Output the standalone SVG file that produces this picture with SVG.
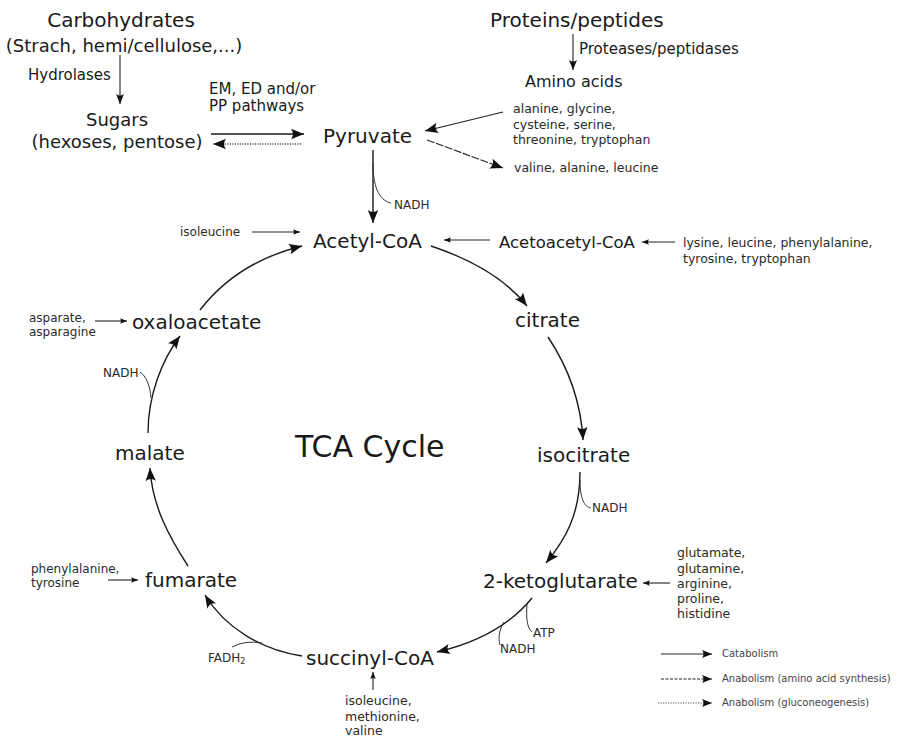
<svg xmlns="http://www.w3.org/2000/svg" width="897" height="737" viewBox="0 0 897 737">
<defs>
<style>
text{font-family:"DejaVu Sans",Verdana,sans-serif;fill:#1a1a1a}
.n20{font-size:20px}
.n18{font-size:18px}
.n15{font-size:15px}
.s12{font-size:12px;fill:#2a2a2a}
.s125{font-size:12.5px;fill:#2a2a2a}
.lg{font-size:10px;fill:#444}
.c{fill:none;stroke:#1a1a1a;stroke-width:1.4}
.t{fill:none;stroke:#222;stroke-width:1.1}
.b{fill:none;stroke:#333;stroke-width:1}
.dash{stroke-dasharray:8,1.5}
.dot{stroke-dasharray:1.2,1.3;stroke:#555}
</style>
<marker id="ab" viewBox="-14 -6 15 12" refX="0" refY="0" markerWidth="15" markerHeight="12" markerUnits="userSpaceOnUse" orient="auto"><path d="M0,0 L-13,-5.2 Q-9,0 -13,5.2 Z" fill="#111"/></marker>
<marker id="am" viewBox="-11 -5 12 10" refX="0" refY="0" markerWidth="12" markerHeight="10" markerUnits="userSpaceOnUse" orient="auto"><path d="M0,0 L-10,-4 Q-7,0 -10,4 Z" fill="#111"/></marker>
<marker id="as" viewBox="-8 -4 9 8" refX="0" refY="0" markerWidth="9" markerHeight="8" markerUnits="userSpaceOnUse" orient="auto"><path d="M0,0 L-7,-2.8 Q-5,0 -7,2.8 Z" fill="#111"/></marker>
</defs>
<rect width="897" height="737" fill="#fff"/>

<g id="connectors">
<path class="t" d="M120,55 L120,104" marker-end="url(#am)"/>
<path class="t" d="M573,34 L573,70" marker-end="url(#am)"/>
<path class="c" d="M211,134 L304,134" marker-end="url(#ab)"/>
<path class="c dot" d="M301,144 L213,144" marker-end="url(#ab)"/>
<path class="t" d="M503,112 L425,131" marker-end="url(#ab)"/>
<path class="t dash" d="M427,140 L503,168" marker-end="url(#ab)"/>
<path class="c" d="M373,150 L373,223" marker-end="url(#ab)"/>
<path class="b" d="M373,163 C373,185 378,200 391,203"/>
<path class="t" d="M252,232 L300,232" marker-end="url(#as)"/>
<path class="t" d="M490,240 L444,240" marker-end="url(#as)"/>
<path class="t" d="M675,242 L642,242" marker-end="url(#as)"/>
<path class="c" d="M200,310 Q237,262 302,246" marker-end="url(#ab)"/>
<path class="c" d="M431,246 Q497,268 527,306" marker-end="url(#ab)"/>
<path class="t" d="M95,321 L127,321" marker-end="url(#as)"/>
<path class="c" d="M148,433 C148,395 162,360 180,336" marker-end="url(#ab)"/>
<path class="b" d="M151,398 C150,385 146,376 140,372"/>
<path class="c" d="M548,337 Q580,385 583,440" marker-end="url(#ab)"/>
<path class="c" d="M580,472 C580,515 565,540 546,563" marker-end="url(#ab)"/>
<path class="b" d="M580,480 C580,498 584,507 591,508"/>
<path class="t" d="M670,583 L643,583" marker-end="url(#as)"/>
<path class="c" d="M532,598 C510,625 480,642 437,652" marker-end="url(#ab)"/>
<path class="b" d="M527,604 C526,618 527,628 532,632"/>
<path class="b" d="M504,622 C499,630 498,638 500,645"/>
<path class="t" d="M373,690 L373,672" marker-end="url(#as)"/>
<path class="c" d="M302,656 C262,650 225,628 205,595" marker-end="url(#ab)"/>
<path class="b" d="M232,647 Q245,640 262,643"/>
<path class="c" d="M188,566 C168,535 152,505 150,468" marker-end="url(#ab)"/>
<path class="t" d="M108,580 L138,580" marker-end="url(#as)"/>
</g>

<g id="carbohydrates">
<text class="n20" x="121" y="27" text-anchor="middle">Carbohydrates</text>
<text class="n18" x="124" y="52" text-anchor="middle">(Strach, hemi/cellulose,...)</text>
</g>
<g id="hydrolases"><text class="n15" x="28" y="80">Hydrolases</text></g>
<g id="sugars">
<text class="n18" x="117" y="126" text-anchor="middle">Sugars</text>
<text class="n18" x="117" y="148" text-anchor="middle">(hexoses, pentose)</text>
</g>
<g id="pathways">
<text class="n15" x="209" y="94">EM, ED and/or</text>
<text class="n15" x="209" y="111">PP pathways</text>
</g>
<g id="pyruvate"><text class="n20" x="323" y="143">Pyruvate</text></g>
<g id="proteins"><text class="n20" x="490" y="27">Proteins/peptides</text></g>
<g id="proteases"><text class="n15" x="579" y="54">Proteases/peptidases</text></g>
<g id="aminoacids"><text style="font-size:16px" x="525" y="87">Amino acids</text></g>
<g id="aa-pyruvate">
<text class="s125" x="513" y="113">alanine, glycine,</text>
<text class="s125" x="513" y="129">cysteine, serine,</text>
<text class="s125" x="513" y="144">threonine, tryptophan</text>
</g>
<g id="aa-valine"><text class="s125" x="514" y="172">valine, alanine, leucine</text></g>
<g id="nadh1"><text class="s12" x="394" y="209">NADH</text></g>
<g id="acetylcoa"><text class="n20" x="313" y="248">Acetyl-CoA</text></g>
<g id="isoleucine1"><text class="s12" x="180" y="236">isoleucine</text></g>
<g id="acetoacetylcoa"><text style="font-size:16.5px" x="499" y="248">Acetoacetyl-CoA</text></g>
<g id="aa-acetoacetyl">
<text class="s125" x="683" y="247">lysine, leucine, phenylalanine,</text>
<text class="s125" x="683" y="263">tyrosine, tryptophan</text>
</g>
<g id="oxaloacetate"><text class="n20" x="132" y="329">oxaloacetate</text></g>
<g id="aa-oxalo">
<text class="s12" x="29" y="322">asparate,</text>
<text class="s12" x="29" y="336">asparagine</text>
</g>
<g id="nadh-malate"><text class="s12" x="103" y="377">NADH</text></g>
<g id="malate"><text class="n20" x="115" y="460">malate</text></g>
<g id="tca"><text style="font-size:30px" x="295" y="457">TCA Cycle</text></g>
<g id="citrate"><text class="n20" x="515" y="327">citrate</text></g>
<g id="isocitrate"><text class="n20" x="537" y="462">isocitrate</text></g>
<g id="nadh-iso"><text class="s12" x="592" y="512">NADH</text></g>
<g id="ketoglutarate"><text class="n20" x="483" y="588">2-ketoglutarate</text></g>
<g id="aa-keto">
<text class="s125" x="677" y="557">glutamate,</text>
<text class="s125" x="677" y="573">glutamine,</text>
<text class="s125" x="677" y="588">arginine,</text>
<text class="s125" x="677" y="603">proline,</text>
<text class="s125" x="677" y="618">histidine</text>
</g>
<g id="atp"><text class="s12" x="533" y="637">ATP</text></g>
<g id="nadh-keto"><text class="s12" x="500" y="653">NADH</text></g>
<g id="succinylcoa"><text class="n20" x="306" y="665">succinyl-CoA</text></g>
<g id="aa-succinyl">
<text class="s125" x="345" y="705">isoleucine,</text>
<text class="s125" x="345" y="721">methionine,</text>
<text class="s125" x="345" y="735">valine</text>
</g>
<g id="fadh2"><text class="s12" x="208" y="662">FADH<tspan style="font-size:8px" dy="2">2</tspan></text></g>
<g id="fumarate"><text class="n20" x="145" y="587">fumarate</text></g>
<g id="aa-fumarate">
<text class="s12" x="31" y="573">phenylalanine,</text>
<text class="s12" x="31" y="587">tyrosine</text>
</g>
<g id="legend">
<path class="t" d="M661,654 L712,654" marker-end="url(#am)"/>
<path class="t" style="stroke-dasharray:3,1.5" d="M661,679 L712,679" marker-end="url(#am)"/>
<path class="t dot" d="M658,703 L712,703" marker-end="url(#am)"/>
<text class="lg" x="722" y="657">Catabolism</text>
<text class="lg" x="722" y="682">Anabolism (amino acid synthesis)</text>
<text class="lg" x="722" y="706">Anabolism (gluconeogenesis)</text>
</g>
</svg>
